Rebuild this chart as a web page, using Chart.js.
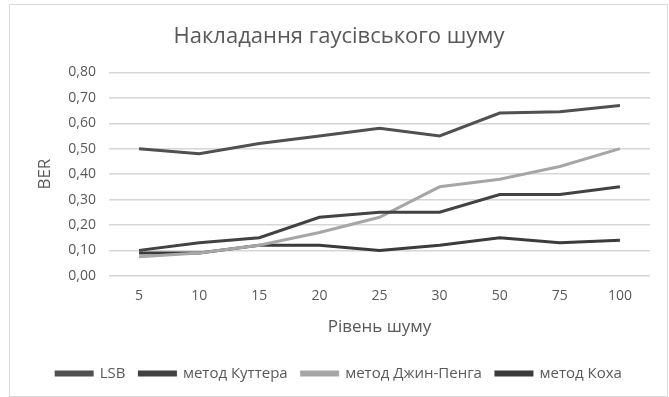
<!DOCTYPE html>
<html>
<head>
<meta charset="utf-8">
<script src="https://cdn.jsdelivr.net/npm/chart.js@4"></script>
<style>
  html, body { margin: 0; padding: 0; background: #fff; }
  #frame {
    position: absolute; left: 9px; top: 4px; width: 657px; height: 391px;
    border: 1px solid #dadada;
  }
  #myChart { position: absolute; left: 0; top: 0; }
</style>
</head>
<body>
<div id="frame"></div>
<canvas id="myChart" width="669" height="397"></canvas>
<script>
// noise levels on the x axis
const noiseLevels = ['5', '10', '15', '20', '25', '30', '50', '75', '100'];

// BER per method
const lsbValues    = [0.50, 0.48, 0.52, 0.55, 0.58, 0.55, 0.64, 0.645, 0.67];
const kutterValues = [0.10, 0.13, 0.15, 0.23, 0.25, 0.25, 0.32, 0.32, 0.35];
const jinPengValues = [0.075, 0.09, 0.12, 0.17, 0.23, 0.35, 0.38, 0.43, 0.50];
const kochValues   = [0.09, 0.09, 0.12, 0.12, 0.10, 0.12, 0.15, 0.13, 0.14];

const seriesNames = ['LSB', 'метод Куттера', 'метод Джин-Пенга', 'метод Коха'];
const seriesColors = ['#505050', '#424242', '#a6a6a6', '#3b3b3b'];

const textColor = '#595959';
const fontFamily = '"Open Sans", "Noto Sans", sans-serif';

const datasets = [lsbValues, kutterValues, jinPengValues, kochValues].map((values, i) => ({
  label: seriesNames[i],
  data: values,
  borderColor: seriesColors[i],
  backgroundColor: seriesColors[i],
  borderWidth: 3,
  pointRadius: 0,
  tension: 0,
  fill: false,
}));

const ctx = document.getElementById('myChart').getContext('2d');
const myChart = new Chart(ctx, {
  type: 'line',
  data: { labels: noiseLevels, datasets: datasets },
  options: {
    responsive: false,
    animation: false,
    devicePixelRatio: 1,
    layout: { padding: { left: 28, right: 19, top: 0, bottom: 6 } },
    plugins: {
      title: {
        display: true,
        text: 'Накладання гаусівського шуму',
        color: textColor,
        font: { family: fontFamily, size: 22, weight: 'normal' },
        padding: { top: 24, bottom: 22 },
      },
      legend: {
        position: 'bottom',
        labels: {
          color: textColor,
          font: { family: fontFamily, size: 15 },
          boxWidth: 36,
          boxHeight: 3,
          padding: 14,
        },
      },
      tooltip: { enabled: false },
    },
    scales: {
      x: {
        offset: true,
        grid: { display: false, drawTicks: false },
        border: { display: false },
        ticks: { color: textColor, font: { family: fontFamily, size: 14 }, padding: 12, maxRotation: 0 },
        title: {
          display: true,
          text: 'Рівень шуму',
          color: textColor,
          font: { family: fontFamily, size: 17 },
          padding: { top: 0, bottom: 15 },
        },
      },
      y: {
        min: 0,
        max: 0.8,
        grid: { color: '#d6d6d6', lineWidth: 1.5, drawTicks: false },
        border: { display: false },
        ticks: {
          stepSize: 0.1,
          color: textColor,
          font: { family: fontFamily, size: 14 },
          padding: 13,
          callback: value => value.toFixed(2).replace('.', ','),
        },
        title: {
          display: true,
          text: 'BER',
          color: textColor,
          font: { family: fontFamily, size: 17 },
          padding: { top: 7, bottom: 0 },
        },
        afterFit: scale => { scale.width = 81; },
      },
    },
  },
});
</script>
</body>
</html>
